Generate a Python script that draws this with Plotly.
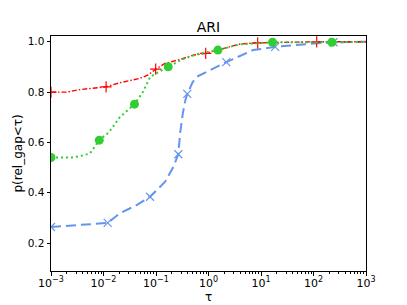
import plotly.graph_objects as go

# ---- data ----
red_tau = [0.001, 0.002, 0.00355, 0.0063, 0.0112, 0.0204, 0.0316, 0.05, 0.0708, 0.0986,
           0.148, 0.288, 0.513, 0.885, 1.66, 3.98, 8.65, 31.6, 115, 1000]
red_p = [0.800, 0.800, 0.810, 0.815, 0.821, 0.837, 0.845, 0.855, 0.868, 0.891,
         0.914, 0.930, 0.947, 0.954, 0.970, 0.991, 0.996, 0.998, 1.000, 1.000]
red_marks = [0, 4, 9, 13, 16, 18]

green_tau = [0.001, 0.0025, 0.004, 0.0055, 0.0083, 0.0126, 0.0204, 0.0389, 0.0562, 0.0776,
             0.171, 0.316, 0.631, 1.51, 3.98, 16.6, 224, 1000]
green_p = [0.540, 0.540, 0.548, 0.556, 0.609, 0.640, 0.700, 0.752, 0.800, 0.861,
           0.901, 0.930, 0.952, 0.967, 0.990, 0.998, 0.998, 1.000]
green_marks = [0, 4, 7, 10, 13, 15, 16]

blue_tau = [0.001, 0.002, 0.004, 0.0079, 0.012, 0.0204, 0.0427, 0.0769, 0.148, 0.214,
            0.266, 0.288, 0.324, 0.363, 0.394, 0.501, 0.596, 1.07, 2.18, 7.08,
            18.6, 115, 240, 1000]
blue_p = [0.264, 0.268, 0.272, 0.278, 0.280, 0.318, 0.351, 0.384, 0.443, 0.503,
          0.553, 0.636, 0.715, 0.768, 0.793, 0.840, 0.861, 0.887, 0.919, 0.967,
          0.980, 0.994, 0.998, 1.000]
blue_marks = [0, 4, 7, 10, 14, 18, 20, 22]

x_ticks = [1e-3, 1e-2, 1e-1, 1e0, 1e1, 1e2, 1e3]
x_tick_exps = ["−3", "−2", "−1", "0", "1", "2", "3"]
y_ticks = [0.2, 0.4, 0.6, 0.8, 1.0]
y_tick_labels = ["0.2", "0.4", "0.6", "0.8", "1.0"]

FONT = "DejaVu Sans"
BLUE = "#6495ED"
GREEN = "#32CD32"
RED = "#FF0000"

W, H = 407, 305
L, R, T, B = 51, 41, 36, 34

x_tick_labels = ["10<sup><span style='font-size:8px'>%s</span></sup>" % e for e in x_tick_exps]

fig = go.Figure()

def add_series(tau, p, marks, color, dash, width, symbol, msize, mline):
    fig.add_trace(go.Scatter(x=tau, y=p, mode="lines",
                             line=dict(color=color, dash=dash, width=width),
                             showlegend=False, hoverinfo="skip"))
    fig.add_trace(go.Scatter(x=[tau[i] for i in marks], y=[p[i] for i in marks],
                             mode="markers",
                             marker=dict(symbol=symbol, size=msize, color=color,
                                         line=dict(color=color, width=mline)),
                             showlegend=False))

add_series(blue_tau, blue_p, blue_marks, BLUE, "10px,5px", 2, "x-thin", 8, 1.2)
add_series(red_tau, red_p, red_marks, RED, "5px,2px,1.5px,2px", 1.4, "cross-thin", 8, 1.2)
add_series(green_tau, green_p, green_marks, GREEN, "2px,3px", 2, "circle", 9, 0)

minor_vals = [m * 10 ** e for e in range(-3, 3) for m in range(2, 10)]

fig.update_layout(
    width=W, height=H,
    margin=dict(l=L, r=R, t=T, b=B, autoexpand=False),
    paper_bgcolor="white", plot_bgcolor="white",
    font=dict(family=FONT, size=10, color="black"),
    title=dict(text="ARI", x=(L + W - R) / 2 / W, xanchor="center",
               y=1 - 27 / H, yanchor="middle", yref="container",
               font=dict(family=FONT, size=14, color="black")),
    xaxis=dict(type="log", range=[-3, 3], tickvals=x_ticks, ticktext=x_tick_labels,
               showgrid=False, zeroline=False, showline=True, mirror=True,
               linecolor="black", linewidth=1, ticks="outside", ticklen=3.5,
               tickcolor="black", tickfont=dict(family=FONT, size=11),
               ticklabelstandoff=-2, automargin=False,
               minor=dict(tickvals=minor_vals, ticks="outside", ticklen=2,
                          tickcolor="black", showgrid=False)),
    yaxis=dict(range=[0.089, 1.023], tickvals=y_ticks, ticktext=y_tick_labels,
               showgrid=False, zeroline=False, showline=True, mirror=True,
               linecolor="black", linewidth=1, ticks="outside", ticklen=3.5,
               tickcolor="black", tickfont=dict(family=FONT, size=10.5),
               automargin=False),
    annotations=[
        dict(text="τ", xref="paper", yref="paper", x=0.5, y=-(297 - (H - B)) / (H - T - B),
             xanchor="center", yanchor="middle", showarrow=False,
             font=dict(family=FONT, size=12, color="black")),
        dict(text="p(rel_gap<τ)", xref="paper", yref="paper", x=-(L - 17) / (W - L - R),
             y=0.5, xanchor="center", yanchor="middle", textangle=-90, showarrow=False,
             font=dict(family=FONT, size=12, color="black")),
    ],
)

fig.write_html("out.html", config={"displayModeBar": False},
               post_script="document.body.style.margin='0';document.body.style.overflow='hidden';")
